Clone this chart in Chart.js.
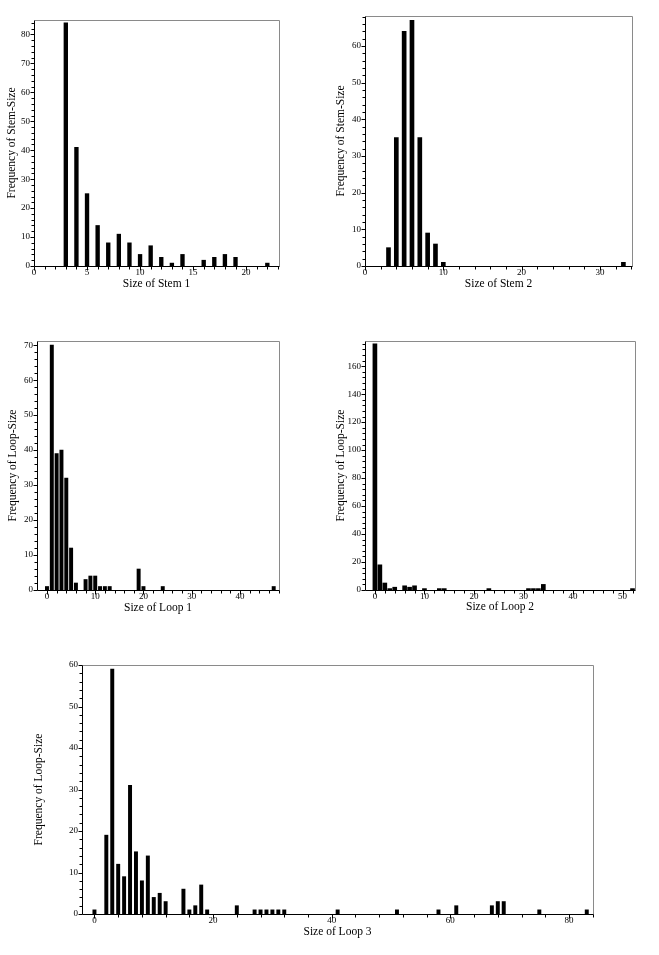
<!DOCTYPE html>
<html><head><meta charset="utf-8">
<script src="https://cdn.jsdelivr.net/npm/chart.js@4.4.1/dist/chart.umd.min.js"></script>
<style>
html,body{margin:0;padding:0;background:#fff;}
body{width:659px;height:955px;position:relative;overflow:hidden;}
canvas{position:absolute;}
</style></head><body>
<canvas id="c1"></canvas><canvas id="c2"></canvas><canvas id="c3"></canvas><canvas id="c4"></canvas><canvas id="c5"></canvas>
<script>
// ---------- data ----------
const stem1Sizes = [3,4,5,6,7,8,9,10,11,12,13,14,16,17,18,19,22];
const stem1Freq  = [84,41,25,14,8,11,8,4,7,3,1,4,2,3,4,3,1];
const stem2Sizes = [3,4,5,6,7,8,9,10,33];
const stem2Freq  = [5,35,64,67,35,9,6,1,1];
const loop1Sizes = [0,1,2,3,4,5,6,8,9,10,11,12,13,19,20,24,47];
const loop1Freq  = [1,70,39,40,32,12,2,3,4,4,1,1,1,6,1,1,1];
const loop2Sizes = [0,1,2,3,4,6,7,8,10,13,14,23,31,32,33,34,52];
const loop2Freq  = [176,18,5,1,2,3,2,3,1,1,1,1,1,1,1,4,1];
const loop3Sizes = [0,2,3,4,5,6,7,8,9,10,11,12,15,16,17,18,19,24,27,28,29,30,31,32,41,51,58,61,67,68,69,75,83];
const loop3Freq  = [1,19,59,12,9,31,15,8,14,4,5,3,6,1,2,7,1,2,1,1,1,1,1,1,1,1,1,2,2,3,3,1,1];

// tick labels
const stem1XLabels = [0,5,10,15,20];
const stem1YLabels = [0,10,20,30,40,50,60,70,80];
const stem2XLabels = [0,10,20,30];
const stem2YLabels = [0,10,20,30,40,50,60];
const loop1XLabels = [0,10,20,30,40];
const loop1YLabels = [0,10,20,30,40,50,60,70];
const loop2XLabels = [0,10,20,30,40,50];
const loop2YLabels = [0,20,40,60,80,100,120,140,160];
const loop3XLabels = [0,20,40,60,80];
const loop3YLabels = [0,10,20,30,40,50,60];

// ---------- style ----------
const FONT = "'Liberation Serif', 'Times New Roman', serif";
const TICK_PX = 9, TITLE_PX = 11.5, LH = 1.2;

function minorTicks(max, step){ const out=[]; for(let v=0; v<=max+1e-9; v+=step) out.push(Math.round(v*1000)/1000); return out; }

function framePlugin(xLabels, yLabels){
  return {
    id:'frame',
    afterDraw(chart){
      const a = chart.chartArea, ctx = chart.ctx;
      const xs = chart.scales.x, ys = chart.scales.y;
      const yb = Math.round(a.bottom)+0.5, xl = Math.round(a.left)+0.5;
      const yt = Math.round(a.top)+0.5, xr = Math.round(a.right)+0.5;
      ctx.save();
      ctx.lineWidth = 1;
      ctx.strokeStyle = '#8a8a8a';
      ctx.beginPath(); ctx.moveTo(xl, yt); ctx.lineTo(xr, yt); ctx.lineTo(xr, yb); ctx.stroke();
      ctx.strokeStyle = '#000';
      ctx.beginPath(); ctx.moveTo(xl, yt); ctx.lineTo(xl, yb); ctx.lineTo(xr, yb); ctx.stroke();
      ctx.beginPath();
      xs.ticks.forEach(t=>{ const px=Math.round(xs.getPixelForValue(t.value))+0.5; const len = xLabels.includes(t.value)?4:3; ctx.moveTo(px,yb); ctx.lineTo(px,yb+len); });
      ys.ticks.forEach(t=>{ const py=Math.round(ys.getPixelForValue(t.value))+0.5; const len = yLabels.includes(t.value)?4:3; ctx.moveTo(xl,py); ctx.lineTo(xl-len,py); });
      ctx.stroke();
      ctx.restore();
    }
  };
}

function panel(id, sizes, freqs, xLabels, yLabels, xTitle, yTitle, c){
  const cv = document.getElementById(id);
  cv.width = c.cw; cv.height = c.ch;
  cv.style.left = c.cx+'px'; cv.style.top = c.cy+'px';
  const half = TITLE_PX*LH/2;
  new Chart(cv, {
    type:'bar',
    data:{datasets:[{data: sizes.map((s,i)=>({x:s, y:freqs[i]})), backgroundColor:'#000', borderWidth:0, barThickness:c.bar}]},
    options:{
      responsive:false, animation:false, events:[],
      layout:{padding:{left:0, top:c.T-c.cy, right:c.cx+c.cw-c.R, bottom:0}},
      plugins:{legend:{display:false}, tooltip:{enabled:false}},
      scales:{
        x:{type:'linear', min:c.xMin, max:c.xMax, offset:false,
           grid:{display:false, drawTicks:true, tickLength:1.5}, border:{display:false},
           afterBuildTicks: s=>{ s.ticks = minorTicks(c.xMax, c.xStep).map(v=>({value:v})); },
           afterFit: s=>{ s.height = c.cy+c.ch-c.B; },
           ticks:{autoSkip:false, maxRotation:0, minRotation:0, padding:0, color:'#000', font:{family:FONT, size:TICK_PX},
                  callback: v => xLabels.includes(v) ? String(v) : ''},
           title:{display:true, text:xTitle, color:'#000', font:{family:FONT, size:TITLE_PX, lineHeight:LH},
                  padding:{top:0, bottom:(c.cy+c.ch)-c.xTitleY-half}}
        },
        y:{type:'linear', min:0, max:c.yMax,
           grid:{display:false, drawTicks:true, tickLength:4}, border:{display:false},
           afterBuildTicks: s=>{ s.ticks = minorTicks(c.yMax, c.yStep).map(v=>({value:v})); },
           afterFit: s=>{ s.width = c.L-c.cx; },
           ticks:{autoSkip:false, padding:0, color:'#000', font:{family:FONT, size:TICK_PX},
                  callback: v => yLabels.includes(v) ? String(v) : ''},
           title:{display:true, text:yTitle, color:'#000', font:{family:FONT, size:TITLE_PX, lineHeight:LH},
                  padding:{top:c.yTitleX-c.cx-half, bottom:0}}
        }
      }
    },
    plugins:[framePlugin(xLabels, yLabels)]
  });
}

panel('c1', stem1Sizes, stem1Freq, stem1XLabels, stem1YLabels, 'Size of Stem 1', 'Frequency of Stem-Size',
  {cx:0, cy:0, cw:320, ch:300, L:34, T:20, R:279, B:266, xMin:0, xMax:23.1, xStep:1, yMax:85, yStep:2, bar:3.7, xTitleY:284, yTitleX:11.7});
panel('c2', stem2Sizes, stem2Freq, stem2XLabels, stem2YLabels, 'Size of Stem 2', 'Frequency of Stem-Size',
  {cx:320, cy:0, cw:339, ch:300, L:365, T:16, R:632, B:266, xMin:0, xMax:34.1, xStep:2, yMax:68.2, yStep:2, bar:4, xTitleY:284, yTitleX:340.7});
panel('c3', loop1Sizes, loop1Freq, loop1XLabels, loop1YLabels, 'Size of Loop 1', 'Frequency of Loop-Size',
  {cx:0, cy:320, cw:320, ch:300, L:37, T:341, R:279, B:590, xMin:-2.07, xMax:48.1, xStep:2, yMax:71.2, yStep:2, bar:3.3, xTitleY:607.7, yTitleX:13.3});
panel('c4', loop2Sizes, loop2Freq, loop2XLabels, loop2YLabels, 'Size of Loop 2', 'Frequency of Loop-Size',
  {cx:320, cy:320, cw:339, ch:300, L:365, T:341, R:635, B:590, xMin:-2.0, xMax:52.5, xStep:2, yMax:178, yStep:4, bar:4, xTitleY:606.7, yTitleX:340.7});
panel('c5', loop3Sizes, loop3Freq, loop3XLabels, loop3YLabels, 'Size of Loop 3', 'Frequency of Loop-Size',
  {cx:0, cy:640, cw:659, ch:310, L:82, T:665, R:593, B:914, xMin:-2.1, xMax:84.05, xStep:4, yMax:60, yStep:2, bar:3.3, xTitleY:932, yTitleX:39.3});
</script>
</body></html>
